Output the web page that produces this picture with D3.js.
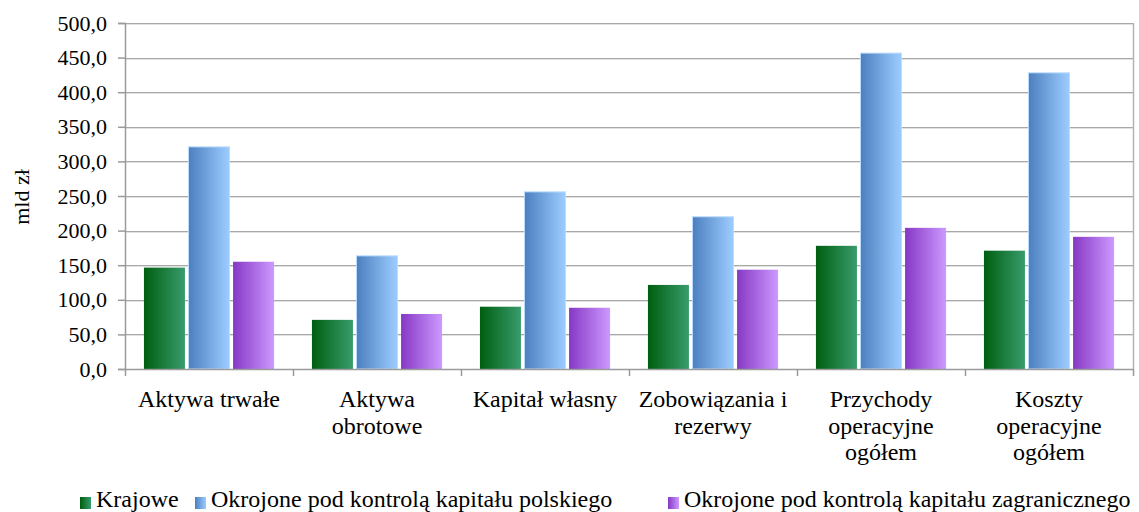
<!DOCTYPE html>
<html>
<head>
<meta charset="utf-8">
<script src="https://cdn.jsdelivr.net/npm/d3@7"></script>
<style>
  body { margin: 0; background: #fff; }
  svg text { font-family: "Liberation Serif", "Times New Roman", serif !important; fill: #000; }
</style>
</head>
<body>
<div id="app"></div>
<script>
// dane (mld zł)
const categories = ["Aktywa trwałe", "Aktywa obrotowe", "Kapitał własny", "Zobowiązania i rezerwy", "Przychody operacyjne ogółem", "Koszty operacyjne ogółem"];
const categoryLines = [["Aktywa trwałe"], ["Aktywa", "obrotowe"], ["Kapitał własny"], ["Zobowiązania i", "rezerwy"], ["Przychody", "operacyjne", "ogółem"], ["Koszty", "operacyjne", "ogółem"]];
const seriesNames = ["Krajowe", "Okrojone pod kontrolą kapitału polskiego", "Okrojone pod kontrolą kapitału zagranicznego"];
const krajowe = [146.5, 71.0, 90.0, 121.5, 178.0, 171.0];
const polskie = [321.0, 163.5, 256.0, 220.0, 456.5, 428.0];
const zagraniczne = [155.0, 79.5, 88.5, 143.5, 204.0, 191.0];
const yTicks = [0, 50, 100, 150, 200, 250, 300, 350, 400, 450, 500];

const W = 1139, H = 512;
const plot = { left: 125, right: 1133, top: 23, bottom: 369 };
const serif = "'Liberation Serif', 'Times New Roman', serif";

const svg = d3.select("#app").append("svg")
  .attr("width", W).attr("height", H)
  .attr("font-family", serif);

/* gradienty */
const defs = svg.append("defs");
const grads = [
  ["g0", "#005e10", "#389c6c"],
  ["g1", "#4c7fbf", "#9dcdff"],
  ["g2", "#8638c4", "#cc99ff"]
];
grads.forEach(([id, a, b]) => {
  const g = defs.append("linearGradient").attr("id", id)
    .attr("x1", "0%").attr("x2", "100%").attr("y1", "0%").attr("y2", "0%");
  g.append("stop").attr("offset", "0%").attr("stop-color", a);
  g.append("stop").attr("offset", "100%").attr("stop-color", b);
});

const x0 = d3.scaleBand().domain(categories).range([plot.left, plot.right]).padding(0);
const x1 = d3.scaleBand().domain(seriesNames).range([0, x0.bandwidth()])
  .paddingInner(0.08).paddingOuter(0.425);
const y = d3.scaleLinear().domain([0, 500]).range([plot.bottom, plot.top]);

/* siatka */
const grid = svg.append("g");
yTicks.filter(d => d > 0).forEach(t => {
  grid.append("line")
    .attr("x1", plot.left).attr("x2", plot.right)
    .attr("y1", Math.round(y(t)) + 1.5).attr("y2", Math.round(y(t)) + 1.5)
    .attr("stroke", "#e2e2e2").attr("stroke-width", 1);
  grid.append("line")
    .attr("x1", plot.left).attr("x2", plot.right)
    .attr("y1", Math.round(y(t)) + 0.5).attr("y2", Math.round(y(t)) + 0.5)
    .attr("stroke", "#a8a8a8").attr("stroke-width", 1.2);
});
// prawa krawędź
svg.append("line")
  .attr("x1", plot.right + 0.5).attr("x2", plot.right + 0.5)
  .attr("y1", plot.top).attr("y2", plot.bottom)
  .attr("stroke", "#b4b4b4").attr("stroke-width", 1.5);

/* słupki */
const series = [krajowe, polskie, zagraniczne];
const groups = svg.append("g").selectAll("g")
  .data(categories)
  .join("g")
  .attr("transform", d => `translate(${x0(d)},0)`);

groups.selectAll("rect")
  .data((c, i) => seriesNames.map((s, j) => ({ s, j, v: series[j][i] })))
  .join("rect")
  .attr("x", d => x1(d.s))
  .attr("y", d => y(d.v))
  .attr("width", x1.bandwidth())
  .attr("height", d => y(0) - y(d.v))
  .attr("fill", d => `url(#g${d.j})`)
  .attr("stroke", d => d.j === 1 ? "#bcdcff" : "none")
  .attr("stroke-width", d => d.j === 1 ? 1 : 0);

/* oś Y */
const yAxis = svg.append("g")
  .attr("transform", `translate(${plot.left},0)`)
  .call(d3.axisLeft(y).tickValues(yTicks).tickSize(7).tickPadding(11)
    .tickFormat(d => d3.format(".1f")(d).replace(".", ",")));
yAxis.attr("font-family", serif).attr("font-size", 22);
yAxis.select(".domain").attr("stroke", "#9a9a9a").attr("stroke-width", 1.5);
yAxis.selectAll(".tick line").attr("stroke", "#9a9a9a").attr("stroke-width", 1.5);
yAxis.selectAll(".tick text").attr("fill", "#000");

/* oś X */
const bottom = svg.append("g");
bottom.append("line")
  .attr("x1", plot.left).attr("x2", plot.right + 1)
  .attr("y1", plot.bottom + 0.5).attr("y2", plot.bottom + 0.5)
  .attr("stroke", "#9a9a9a").attr("stroke-width", 1.5);
const edges = categories.map(c => x0(c)).concat([plot.right]);
bottom.selectAll("line.tk").data(edges).join("line").attr("class", "tk")
  .attr("x1", d => d + 0.5).attr("x2", d => d + 0.5)
  .attr("y1", plot.bottom).attr("y2", plot.bottom + 7)
  .attr("stroke", "#9a9a9a").attr("stroke-width", 1.5);

const labels = svg.append("g").selectAll("text")
  .data(categories)
  .join("text")
  .attr("text-anchor", "middle")
  .attr("font-size", 24)
  .attr("x", d => x0(d) + x0.bandwidth() / 2)
  .attr("y", 407);
labels.each(function (d, i) {
  const t = d3.select(this);
  categoryLines[i].forEach((line, k) => {
    t.append("tspan")
      .attr("x", x0(d) + x0.bandwidth() / 2)
      .attr("dy", k === 0 ? 0 : 26.5)
      .text(line);
  });
});

/* tytuł osi Y */
svg.append("text")
  .attr("transform", "translate(29,197) rotate(-90)")
  .attr("text-anchor", "middle")
  .attr("font-size", 22)
  .text("mld zł");

/* legenda */
const legendX = [80, 195, 668];
const legend = svg.append("g").selectAll("g")
  .data(seriesNames)
  .join("g")
  .attr("transform", (d, i) => `translate(${legendX[i]},0)`);
legend.append("rect")
  .attr("x", 0).attr("y", 497).attr("width", 11).attr("height", 12)
  .attr("fill", (d, i) => `url(#g${i})`);
legend.append("text")
  .attr("x", 16).attr("y", 507)
  .attr("font-size", 24)
  .text(d => d);
</script>
</body>
</html>
